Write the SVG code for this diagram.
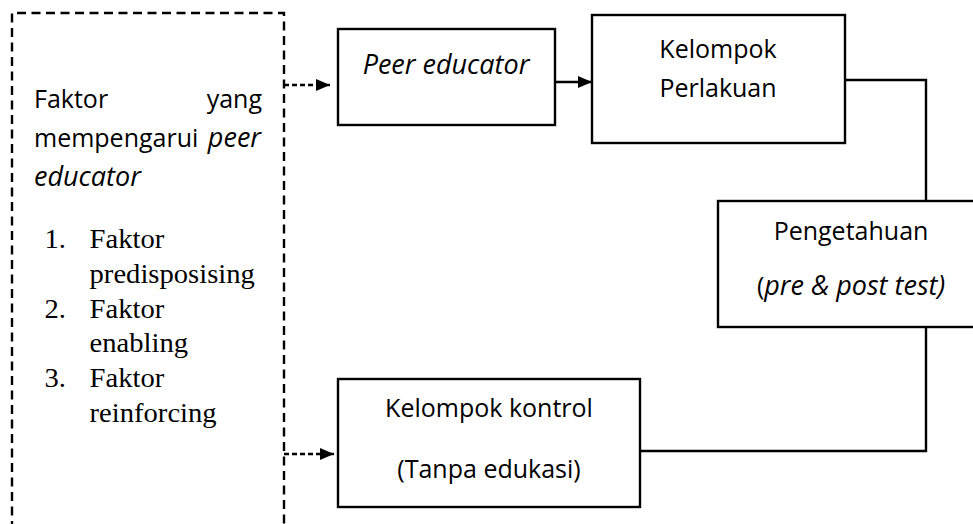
<svg xmlns="http://www.w3.org/2000/svg" width="973" height="524" viewBox="0 0 973 524">
<defs>
<style>
.box{fill:#fff;stroke:#000;stroke-width:2.4}
.ln{fill:none;stroke:#000;stroke-width:2.4}
.dash{fill:none;stroke:#000;stroke-width:2.4;stroke-dasharray:9 5.5}
.sdash{fill:none;stroke:#000;stroke-width:2.4;stroke-dasharray:5 3}
.s{font-family:"Open Sans","Noto Sans","Liberation Sans",sans-serif;font-size:25px;fill:#000}
.t{font-family:"Liberation Serif","Times New Roman",serif;font-size:27px;fill:#000}
.m{text-anchor:middle}
.i{font-style:italic;font-size:27px}
</style>
<marker id="ah" viewBox="0 0 14 12" refX="14" refY="6" markerWidth="14" markerHeight="12" markerUnits="userSpaceOnUse" orient="auto">
<path d="M0,0 L14,6 L0,12 Z" fill="#000"/>
</marker>
</defs>
<rect width="973" height="524" fill="#fff"/>

<g id="faktor">
<path class="dash" d="M12,530 V13 H284 V530"/>
<text class="s" x="34" y="108">Faktor</text>
<text class="s" x="262" y="108" text-anchor="end">yang</text>
<text class="s" x="34" y="147">mempengarui</text>
<text class="s i" x="261" y="147" text-anchor="end">peer</text>
<text class="s i" x="34" y="186">educator</text>
<g transform="scale(1.06 1)">
<text class="t" x="42" y="248">1.</text>
<text class="t" x="84.5" y="248">Faktor</text>
<text class="t" x="84.5" y="283">predisposising</text>
<text class="t" x="42" y="318">2.</text>
<text class="t" x="84.5" y="318">Faktor</text>
<text class="t" x="84.5" y="352">enabling</text>
<text class="t" x="42" y="387">3.</text>
<text class="t" x="84.5" y="387">Faktor</text>
<text class="t" x="84.5" y="422">reinforcing</text>
</g>
</g>

<g id="peer">
<rect class="box" x="338" y="29" width="217" height="96"/>
<text class="s m i" x="446" y="74">Peer educator</text>
</g>

<g id="perlakuan">
<rect class="box" x="592" y="15" width="253" height="128"/>
<text class="s m" x="718" y="58">Kelompok</text>
<text class="s m" x="718" y="97">Perlakuan</text>
</g>

<g id="pengetahuan">
<rect class="box" x="718" y="201" width="262" height="126"/>
<text class="s m" x="851" y="240">Pengetahuan</text>
<text class="s m" x="851" y="295">(<tspan class="i">pre &amp; post test)</tspan></text>
</g>

<g id="kontrol">
<rect class="box" x="338" y="379" width="302" height="128"/>
<text class="s m" x="489" y="417">Kelompok kontrol</text>
<text class="s m" x="489" y="478">(Tanpa edukasi)</text>
</g>

<g id="connectors">
<path class="sdash" d="M284,85 H318"/>
<path class="ln" d="M317,85 H330" marker-end="url(#ah)"/>
<path class="ln" d="M555,82 H592" marker-end="url(#ah)"/>
<path class="sdash" d="M284,454 H322"/>
<path class="ln" d="M320,454 H334" marker-end="url(#ah)"/>
<path class="ln" d="M845,80 H926 V201"/>
<path class="ln" d="M926,327 V451 H640"/>
</g>
</svg>
